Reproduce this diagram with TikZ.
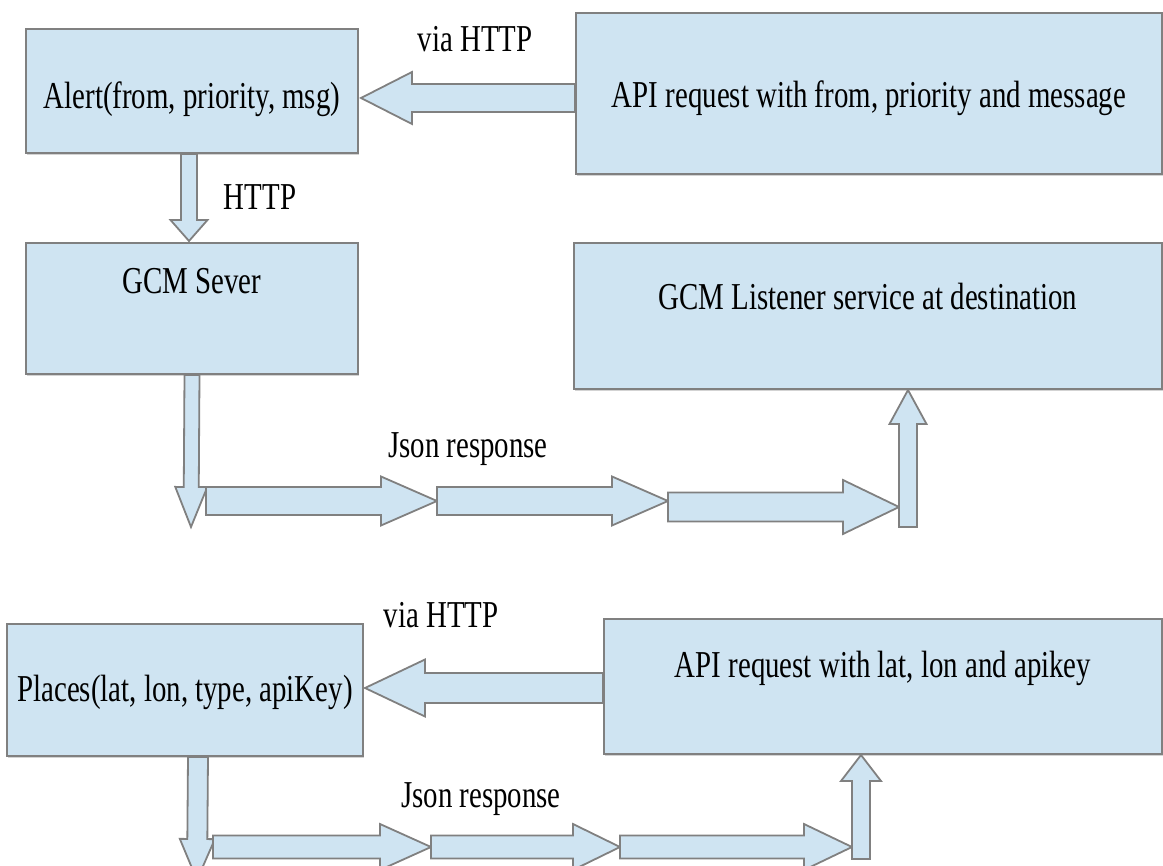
\documentclass[tikz,border=0pt]{standalone}
\usepackage{fontspec}
\setmainfont{Liberation Serif}[FakeStretch=0.76]
\usetikzlibrary{calc,shadows}
\definecolor{vakblauw}{RGB}{207,228,242}
\definecolor{randgrijs}{RGB}{128,128,128}
\tikzset{
    vak/.style={draw=randgrijs, fill=vakblauw, line width=2pt, inner sep=0pt, anchor=north west, font=\fontsize{38}{44}\selectfont,
        drop shadow={shadow xshift=1pt, shadow yshift=-2pt, opacity=0.35}},
    pijlvorm/.style={draw=randgrijs, fill=vakblauw, line width=1.8pt, line join=miter},
    tekst/.style={anchor=base, inner sep=0pt, font=\fontsize{38}{44}\selectfont}
}
\NewDocumentCommand{\blokpijl}{m m m m m}{ % van, naar, halve schacht, halve kop, koplengte
    \path (#1) coordinate (van) (#2) coordinate (naar);
    \coordinate (kop) at ($(naar)!#5pt!(van)$);
    \filldraw[pijlvorm] ($(van)!#3pt!90:(naar)$) -- ($(kop)!#3pt!90:(naar)$) -- ($(kop)!#4pt!90:(naar)$) -- (naar)
        -- ($(kop)!#4pt!-90:(naar)$) -- ($(kop)!#3pt!-90:(naar)$) -- ($(van)!#3pt!-90:(naar)$) -- cycle;
}
\begin{document}
\begin{tikzpicture}[x=1pt, y=-1pt]
    \useasboundingbox (0,0) rectangle (1163,866);
    \clip (0,0) rectangle (1163,866);
    \node[vak, minimum width=332pt, text height=80pt, text depth=44pt] (alert) at (25,28) {Alert(from, priority, msg)};
    \node[vak, minimum width=586pt, text height=95pt, text depth=66pt] (api) at (575,12) {API request with from, priority and message};
    \node[vak, minimum width=332pt, text height=51pt, text depth=80pt] (gcm) at (25,242) {GCM Sever};
    \node[vak, minimum width=588pt, text height=67pt, text depth=79pt] (listener) at (573,242) {GCM Listener service at destination};
    \node[vak, minimum width=356pt, text height=77pt, text depth=55pt] (places) at (6,623) {Places(lat, lon, type, apiKey)};
    \node[vak, minimum width=558pt, text height=58pt, text depth=77pt] (apiplaces) at (603,618) {API request with lat, lon and apikey};
    \node[tekst] (via1) at (475,52) {via HTTP};
    \node[tekst] (http) at (260,210) {HTTP};
    \node[tekst] (json1) at (468,458) {Json response};
    \node[tekst] (via2) at (441,627) {via HTTP};
    \node[tekst] (json2) at (481,807) {Json response};
    % hoekpunten van de pijlketens
    \coordinate (h1) at (191,527);
    \coordinate (r1) at (206,501);
    \coordinate (r2) at (437,501);
    \coordinate (r3) at (668,501);
    \coordinate (r4) at (668,507);
    \coordinate (r5) at (899,507);
    \coordinate (r6) at (908,527);
    \coordinate (h2) at (197,880);
    \coordinate (s1) at (213,847);
    \coordinate (s2) at (431,847);
    \coordinate (s3) at (620,847);
    \coordinate (s4) at (852,847);
    \coordinate (s5) at (861,859);
    \blokpijl{$(api.west)+(0,4.5)$}{$(alert.east)+(2,7)$}{14}{26}{51}
    \blokpijl{$(alert.south)+(-3,0)$}{$(gcm.north)+(-3,-1)$}{8}{18.5}{21}
    \blokpijl{gcm.south}{h1}{7.5}{16}{40}
    \blokpijl{r1}{r2}{14}{24.5}{56}
    \blokpijl{r2}{r3}{14}{24.5}{56}
    \blokpijl{r4}{r5}{14.5}{27}{56}
    \blokpijl{r6}{listener.south -| r6}{9}{18.5}{34}
    \blokpijl{$(apiplaces.west)+(0,1.5)$}{$(places.east)+(1,-2)$}{15}{28.5}{60}
    \blokpijl{$(places.south)+(13,0)$}{h2}{10}{17.5}{41}
    \blokpijl{s1}{s2}{11.5}{23}{51}
    \blokpijl{s2}{s3}{11.5}{23}{47}
    \blokpijl{s3}{s4}{11.5}{23}{48}
    \blokpijl{s5}{apiplaces.south -| s5}{9}{20}{26}
\end{tikzpicture}
\end{document}
